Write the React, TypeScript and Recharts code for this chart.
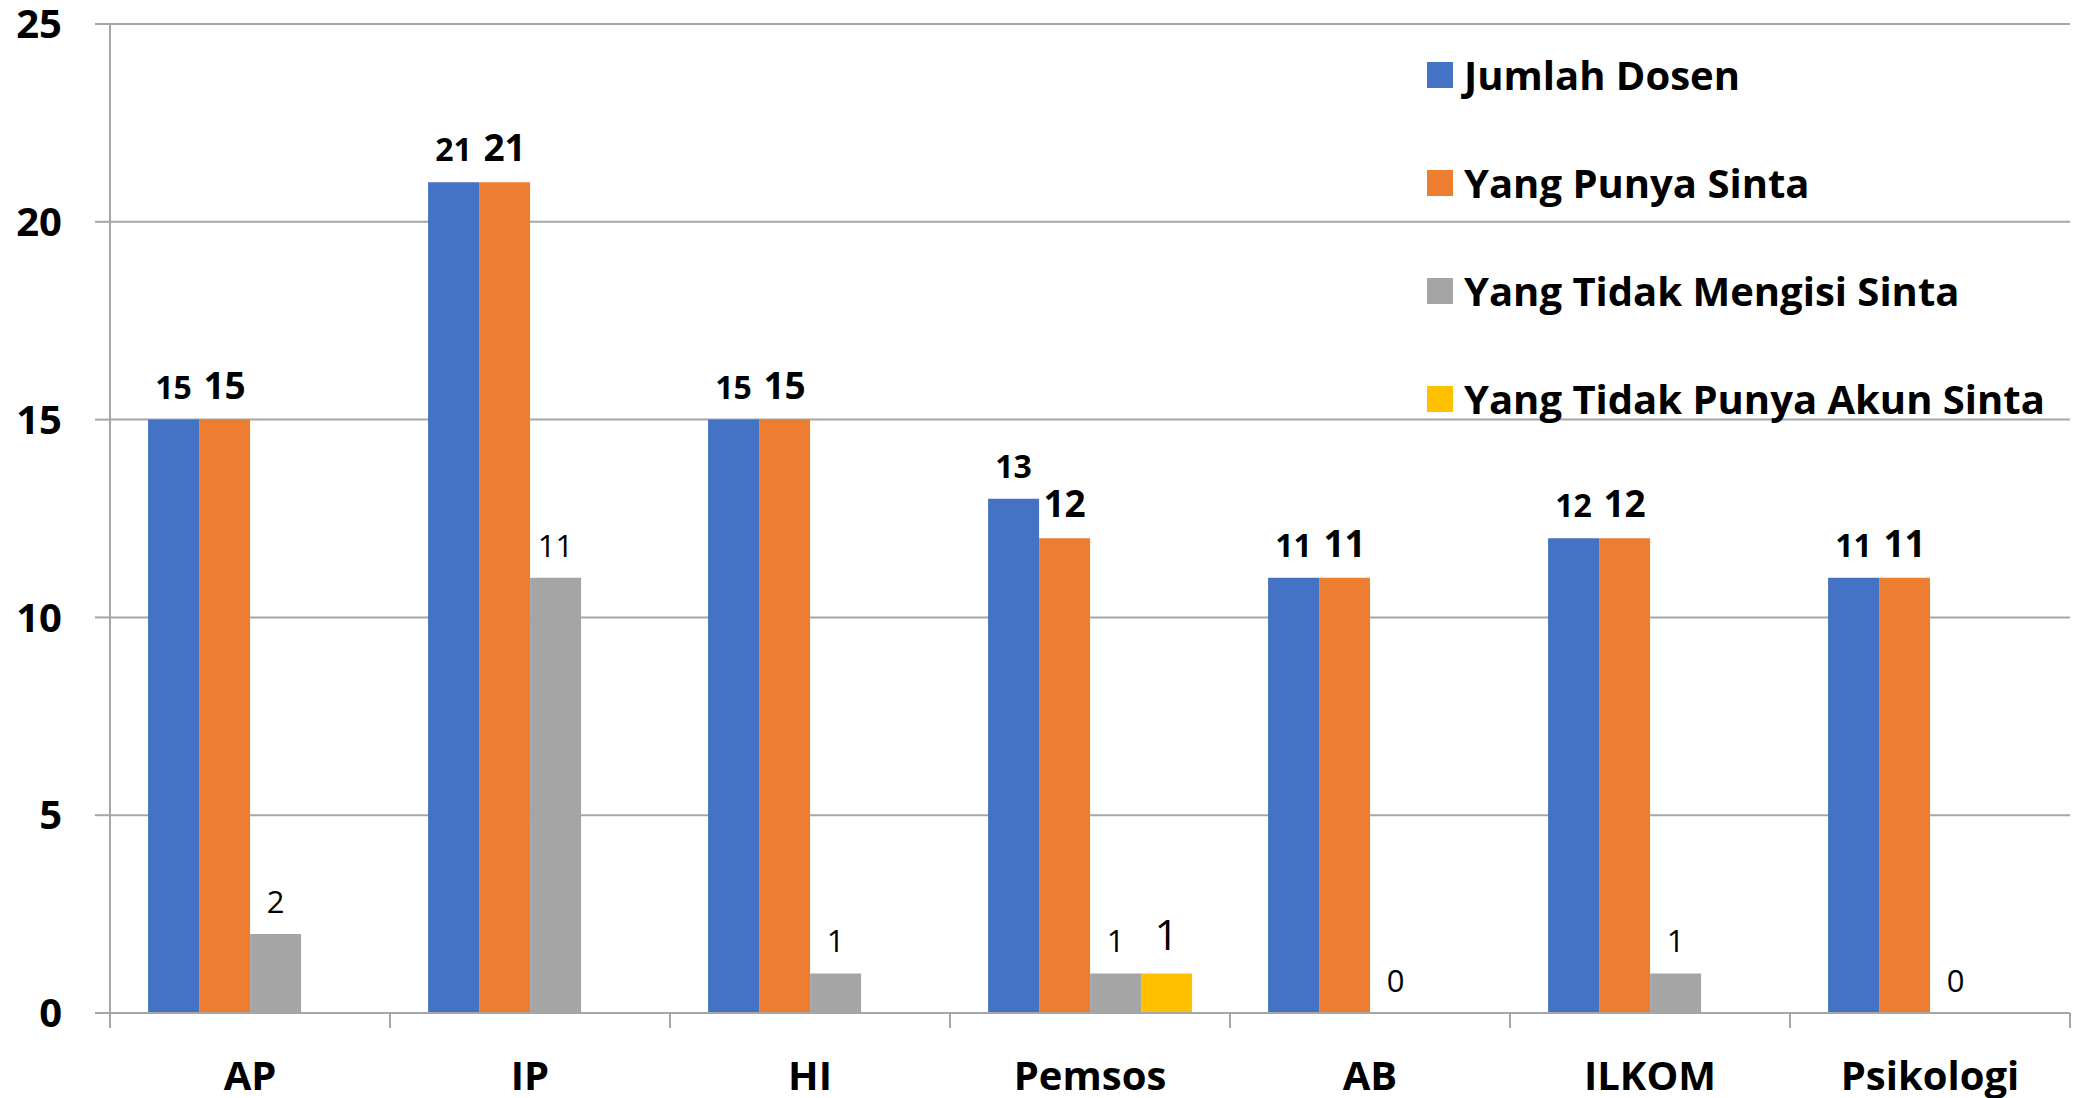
import React from 'react';
import { Bar, BarChart, CartesianGrid, LabelList, Legend, XAxis, YAxis } from 'recharts';

// Data
const categories = ['AP', 'IP', 'HI', 'Pemsos', 'AB', 'ILKOM', 'Psikologi'];
const jumlahDosen = [15, 21, 15, 13, 11, 12, 11];
const punyaSinta = [15, 21, 15, 12, 11, 12, 11];
const tidakMengisiSinta = [2, 11, 1, 1, 0, 1, 0];
const tidakPunyaAkun = [null, null, null, 1, null, null, null];
const yTicks = [0, 5, 10, 15, 20, 25];

const data = categories.map((name, i) => ({
  name,
  jumlah: jumlahDosen[i],
  punya: punyaSinta[i],
  tidakMengisi: tidakMengisiSinta[i],
  tidakAkun: tidakPunyaAkun[i],
}));

const W = 2077;
const H = 1098;
const LEFT = 110;
const RIGHT = 7;
const BAND = (W - LEFT - RIGHT) / categories.length;
const GRID = '#a6a6a6';
const FONT = '"Open Sans", sans-serif';
const X_MARGIN = 20;

// keep zero bars as a hairline so their "0" label is still drawn
const zeroPoint = (value: any) => (value === 0 ? 0.5 : 0);

// Category labels plus Excel-style tick marks on the band edges
const XTick = (props: any) => {
  const { x, y, payload, index } = props;
  const top = y - X_MARGIN;
  const half = BAND / 2;
  return (
    <g>
      <line x1={x - half} x2={x - half} y1={top} y2={top + 15} stroke={GRID} strokeWidth={2} />
      {index === categories.length - 1 && (
        <line x1={x + half} x2={x + half} y1={top} y2={top + 15} stroke={GRID} strokeWidth={2} />
      )}
      <text x={x} y={top + 77} textAnchor="middle" fill="#000" fontSize={40} fontWeight={700} fontFamily={FONT}>
        {payload.value}
      </text>
    </g>
  );
};

const renderLegend = (props: any) => (
  <div style={{ fontFamily: FONT }}>
    {(props.payload || []).map((entry: any) => (
      <div key={entry.value} style={{ height: 108, display: 'flex', alignItems: 'center' }}>
        <span style={{ width: 26, height: 26, background: entry.color, marginRight: 11, flex: 'none' }} />
        <span style={{ fontSize: 40, fontWeight: 700, lineHeight: 1, color: '#000', whiteSpace: 'nowrap' }}>
          {entry.value}
        </span>
      </div>
    ))}
  </div>
);

export default function App() {
  return (
    <div style={{ width: W, height: H, overflow: 'hidden', background: '#fff', fontFamily: FONT }}>
      <style>{'body{margin:0;background:#fff}'}</style>
      <BarChart
        width={W}
        height={H}
        data={data}
        margin={{ top: 24, right: RIGHT, bottom: 0, left: 0 }}
        barCategoryGap="13.6%"
        barGap={0}
      >
        <CartesianGrid vertical={false} stroke={GRID} strokeWidth={2} />
        <XAxis
          dataKey="name"
          height={85}
          interval={0}
          tickSize={0}
          tickMargin={X_MARGIN}
          tick={<XTick />}
          axisLine={{ stroke: GRID, strokeWidth: 2 }}
          tickLine={false}
        />
        <YAxis
          width={LEFT}
          domain={[0, 25]}
          ticks={yTicks}
          tickSize={15}
          tickMargin={33}
          axisLine={{ stroke: GRID, strokeWidth: 2 }}
          tickLine={{ stroke: GRID, strokeWidth: 2 }}
          tick={{ fill: '#000', fontSize: 40, fontWeight: 700, fontFamily: FONT }}
        />
        <Legend
          layout="vertical"
          align="center"
          verticalAlign="middle"
          content={renderLegend}
          wrapperStyle={{ left: 1427, top: 21 }}
        />
        <Bar dataKey="jumlah" name="Jumlah Dosen" fill="#4472C4" isAnimationActive={false}>
          <LabelList dataKey="jumlah" position="top" offset={21} fill="#000" fontSize={32} fontWeight={700} fontFamily={FONT} />
        </Bar>
        <Bar dataKey="punya" name="Yang Punya Sinta" fill="#ED7D31" isAnimationActive={false}>
          <LabelList dataKey="punya" position="top" offset={21} fill="#000" fontSize={37} fontWeight={700} fontFamily={FONT} />
        </Bar>
        <Bar
          dataKey="tidakMengisi"
          name="Yang Tidak Mengisi Sinta"
          fill="#A5A5A5"
          minPointSize={zeroPoint}
          isAnimationActive={false}
        >
          <LabelList dataKey="tidakMengisi" position="top" offset={21} fill="#000" fontSize={31} fontFamily={FONT} />
        </Bar>
        <Bar dataKey="tidakAkun" name="Yang Tidak Punya Akun Sinta" fill="#FFC000" isAnimationActive={false}>
          <LabelList dataKey="tidakAkun" position="top" offset={23} fill="#000" fontSize={42} fontFamily={FONT} />
        </Bar>
      </BarChart>
    </div>
  );
}
